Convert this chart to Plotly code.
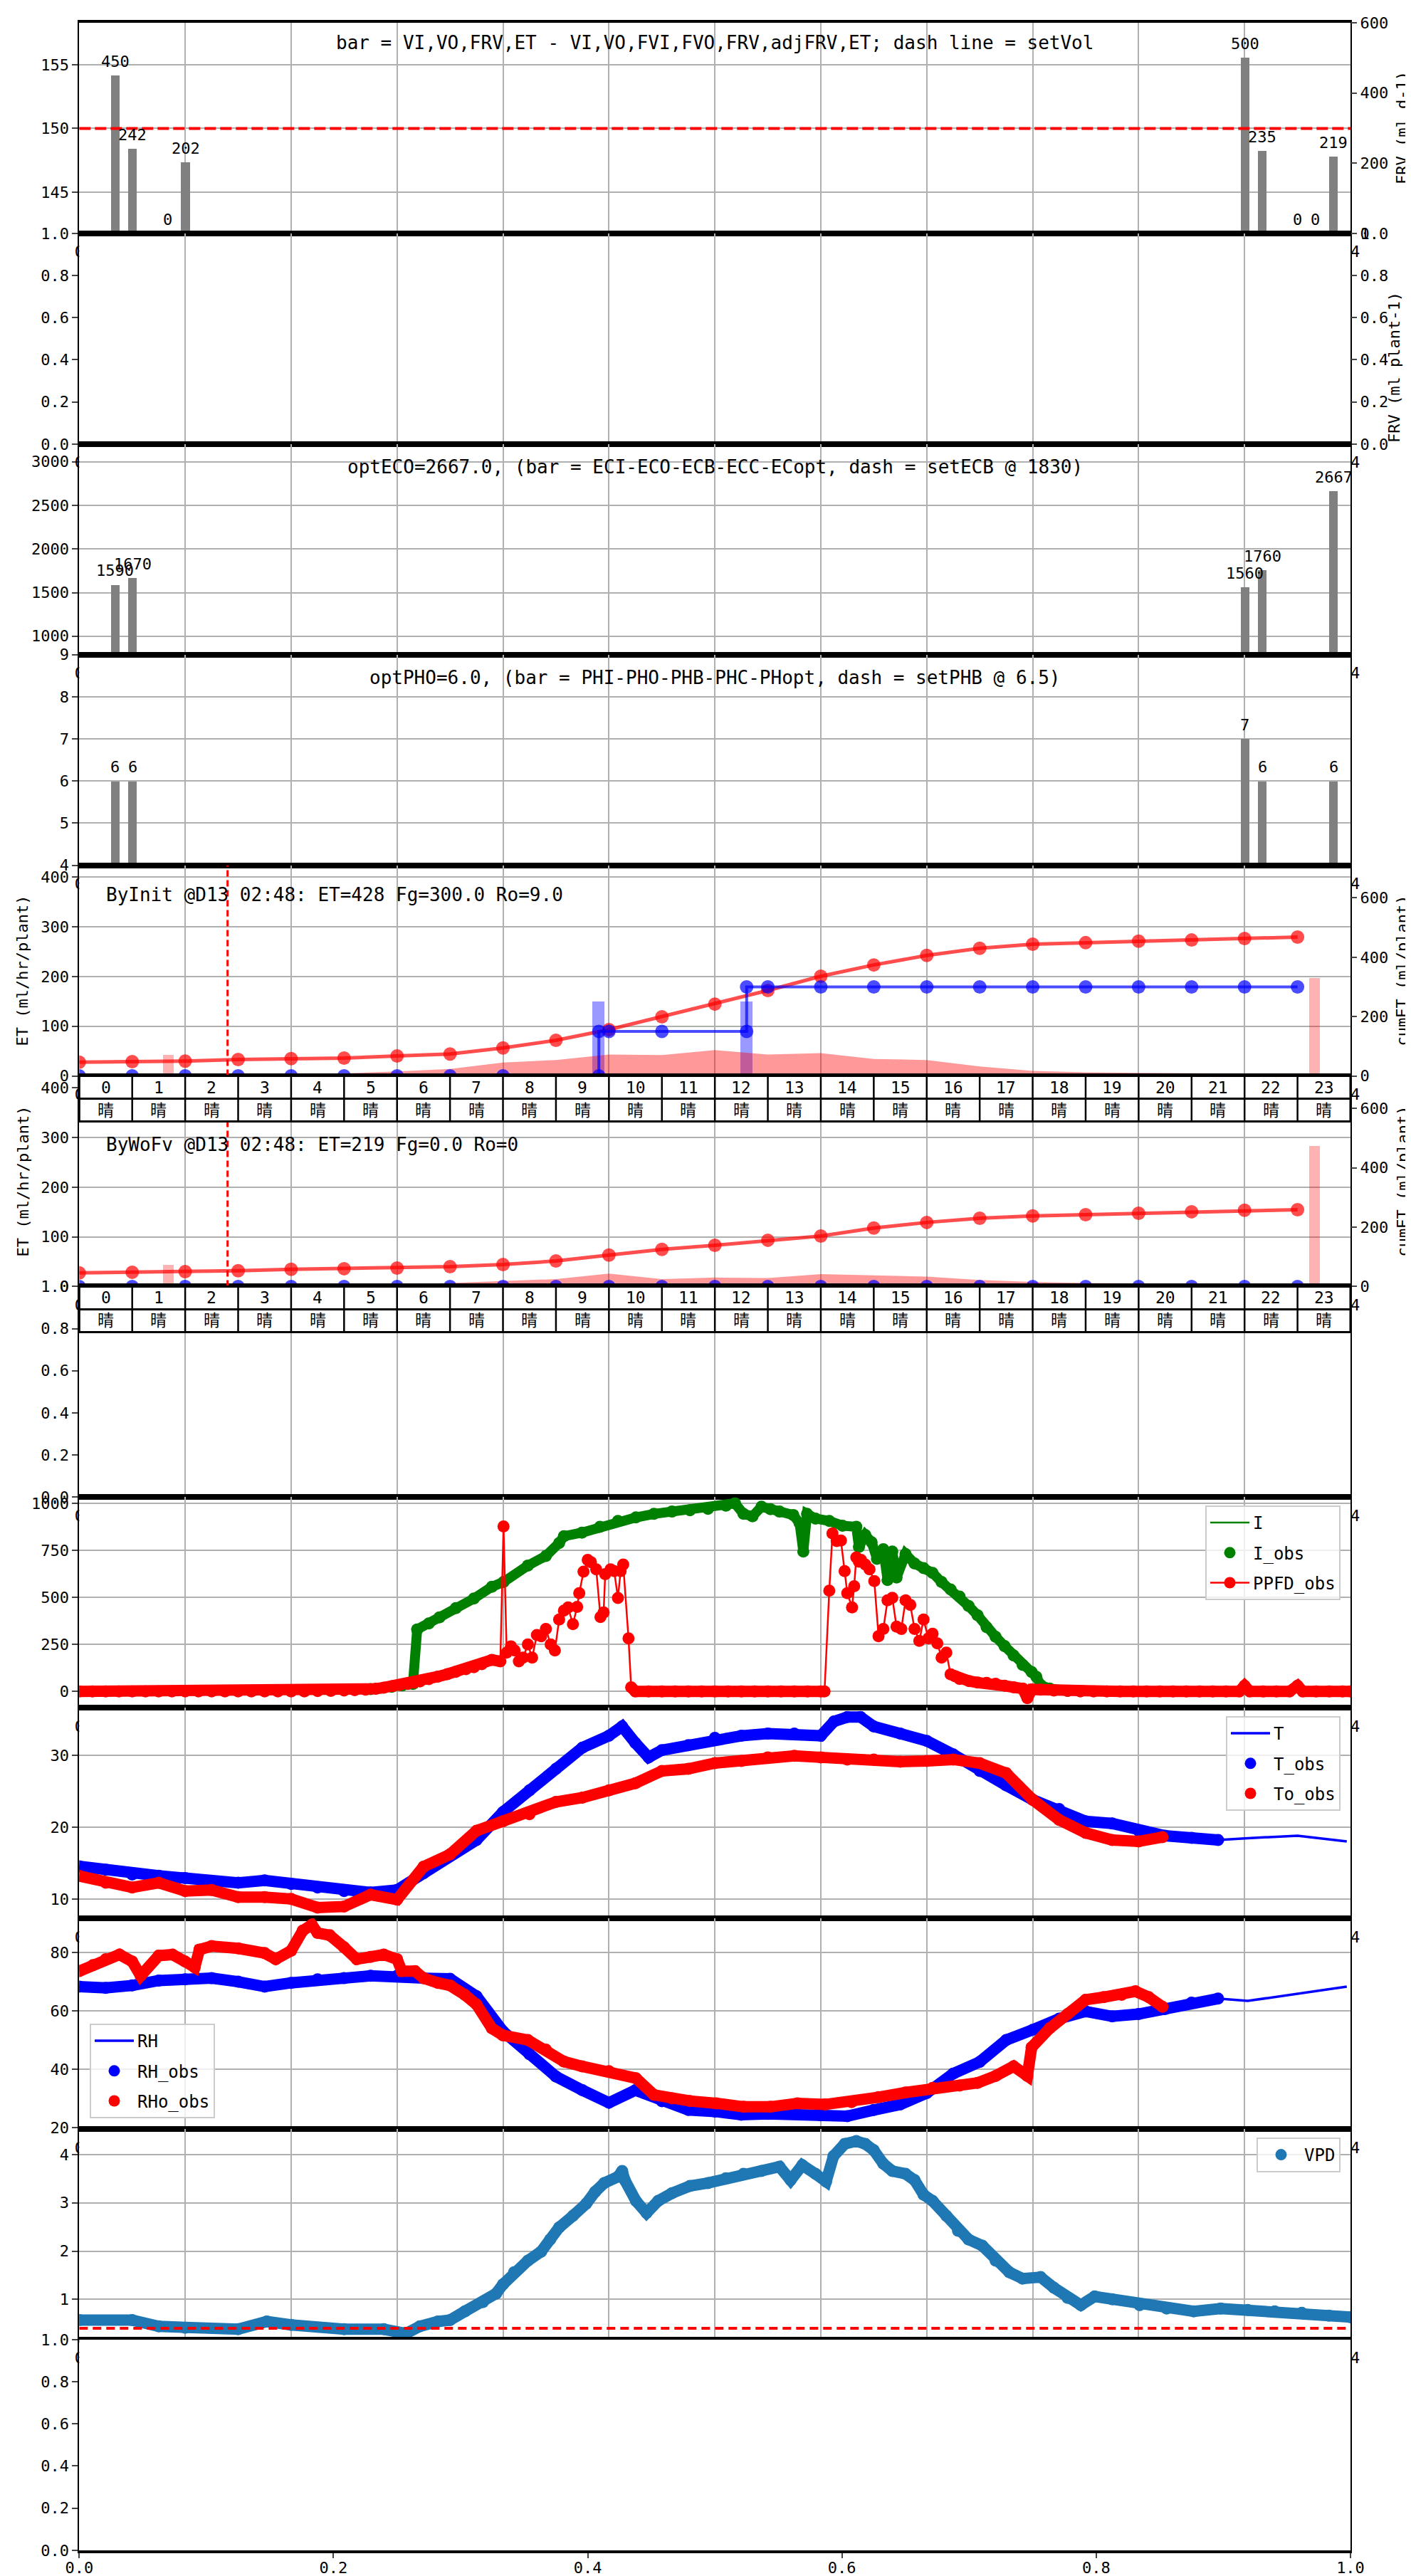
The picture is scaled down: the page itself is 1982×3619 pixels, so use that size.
import plotly.graph_objects as go

# ------------------------------------------------------------------ data
bar_hours = [0.68, 1.01, 1.67, 2.01, 22.01, 22.34, 23.0, 23.34, 23.68]
frv_values = [450, 242, 0, 202, 500, 235, 0, 0, 219]
set_vol = 150
frv_title = "bar = VI,VO,FRV,ET - VI,VO,FVI,FVO,FRV,adjFRV,ET; dash line = setVol"

ec_hours = [0.68, 1.01, 22.01, 22.34, 23.68]
ec_values = [1590, 1670, 1560, 1760, 2667]
ec_title = "optECO=2667.0, (bar = ECI-ECO-ECB-ECC-ECopt, dash = setECB @ 1830)"

ph_hours = [0.68, 1.01, 22.01, 22.34, 23.68]
ph_values = [6, 6, 7, 6, 6]
ph_title = "optPHO=6.0, (bar = PHI-PHO-PHB-PHC-PHopt, dash = setPHB @ 6.5)"

hours = [0, 1, 2, 3, 4, 5, 6, 7, 8, 9, 10, 11, 12, 13, 14, 15, 16, 17, 18, 19, 20, 21, 22, 23]
weather = ["晴"] * 24
init_time = 2.8

byinit_text = "ByInit @D13 02:48: ET=428 Fg=300.0 Ro=9.0"
byinit_cumET = [46, 48, 50, 55, 58, 60, 67, 74, 94, 120, 156, 199, 242, 288, 336, 374, 406, 430, 444, 449, 454, 458, 463, 468]
byinit_ET = [4, 4, 4, 4, 5, 5, 9, 14, 27, 32, 43, 42, 52, 43, 46, 34, 32, 19, 10, 7, 6, 5, 4, 4]
byinit_irr_hours = [9.81, 12.6]
byinit_irr = [150, 150]
byinit_cumirr_hours = [0, 1, 2, 3, 4, 5, 6, 7, 8, 9.81, 9.81, 10, 11, 12.6, 12.6, 13, 14, 15, 16, 17, 18, 19, 20, 21, 22, 23]
byinit_cumirr = [0, 0, 0, 0, 0, 0, 0, 0, 0, 0, 150, 150, 150, 150, 300, 300, 300, 300, 300, 300, 300, 300, 300, 300, 300, 300]
et_bar_hours = [1.69, 23.33]
byinit_et_bars = [43, 198]

bywofv_text = "ByWoFv @D13 02:48: ET=219 Fg=0.0 Ro=0"
bywofv_cumET = [46, 48, 50, 53, 58, 60, 62, 67, 74, 86, 106, 125, 139, 156, 170, 197, 216, 230, 238, 242, 247, 252, 257, 259]
bywofv_ET = [3, 3, 3, 3, 3, 3, 4, 7, 11, 15, 26, 15, 18, 17, 25, 23, 20, 13, 9, 7, 6, 6, 5, 5]
bywofv_cumirr = [0] * 24
bywofv_et_bars = [44, 284]

I_obs = [(5.5, 12), (5.9, 25), (6.1, 32), (6.3, 40), (6.38, 330), (6.6, 362), (6.8, 394), (7.11, 443),
         (7.45, 494), (7.79, 557), (8.01, 582), (8.47, 670), (8.81, 721), (9.06, 790), (9.15, 826),
         (9.49, 845), (9.83, 876), (10.17, 907), (10.51, 926), (10.85, 945), (11.19, 957), (11.53, 964),
         (11.87, 972), (12.21, 989), (12.38, 1001), (12.54, 945), (12.71, 932), (12.88, 983), (13.05, 970),
         (13.22, 957), (13.48, 939), (13.6, 895), (13.67, 744), (13.74, 945), (13.9, 920), (14.16, 907),
         (14.41, 882), (14.67, 876), (14.72, 769), (14.84, 832), (14.96, 794), (15.06, 706), (15.18, 757),
         (15.26, 593), (15.35, 744), (15.43, 606), (15.6, 731), (15.77, 681), (15.94, 656), (16.11, 631),
         (16.28, 582), (16.45, 543), (16.62, 505), (16.79, 455), (16.96, 405), (17.13, 342), (17.3, 291),
         (17.47, 241), (17.64, 191), (17.81, 141), (17.98, 103), (18.07, 78), (18.15, 34), (18.32, 15),
         (18.66, 3)]

PPFD_obs = [(0, 0), (0.25, 0), (0.5, 0), (0.75, 0), (1, 0), (1.25, 0), (1.5, 0), (1.75, 0), (2, 0), (2.25, 0),
            (2.5, 0), (2.75, 0), (3, 0), (3.25, 0), (3.5, 0), (3.75, 0), (4, 0), (4.25, 0), (4.5, 2), (4.75, 3),
            (5.0, 5), (5.2, 7), (5.41, 9), (5.6, 14), (5.75, 20), (5.92, 28), (6.05, 34), (6.2, 40), (6.32, 46),
            (6.43, 53), (6.6, 65), (6.77, 79), (6.95, 92), (7.11, 104), (7.3, 118), (7.45, 129), (7.6, 145),
            (7.79, 168), (7.95, 160), (8.01, 878), (8.07, 206), (8.15, 240), (8.22, 218), (8.3, 160), (8.38, 180),
            (8.47, 250), (8.55, 180), (8.64, 300), (8.72, 294), (8.81, 332), (8.9, 250), (8.98, 218), (9.06, 383),
            (9.15, 430), (9.23, 447), (9.32, 358), (9.4, 450), (9.44, 523), (9.52, 637), (9.6, 700), (9.66, 688),
            (9.76, 650), (9.84, 396), (9.9, 420), (9.93, 624), (10.03, 650), (10.1, 640), (10.17, 497),
            (10.22, 640), (10.27, 675), (10.37, 282), (10.42, 22), (10.5, 0), (10.75, 0), (11, 0), (11.25, 0),
            (11.5, 0), (11.75, 0), (12, 0), (12.25, 0), (12.5, 0), (12.75, 0), (13, 0), (13.25, 0), (13.5, 0),
            (13.75, 0), (14.0, 0), (14.07, 0), (14.16, 536), (14.22, 841), (14.3, 800), (14.38, 803), (14.45, 640),
            (14.5, 523), (14.59, 447), (14.63, 560), (14.67, 713), (14.72, 690), (14.76, 700), (14.84, 675),
            (14.92, 650), (15.01, 587), (15.09, 294), (15.18, 332), (15.26, 485), (15.35, 498), (15.43, 345),
            (15.52, 332), (15.6, 485), (15.69, 460), (15.77, 332), (15.86, 269), (15.94, 383), (16.03, 282),
            (16.11, 307), (16.2, 256), (16.28, 180), (16.37, 206), (16.45, 91), (16.54, 80), (16.62, 66),
            (16.8, 55), (16.96, 47), (17.13, 45), (17.3, 41), (17.47, 30), (17.64, 22), (17.81, 15), (17.9, -36),
            (17.98, 10), (18.15, 9), (18.4, 5), (18.66, 3), (18.9, 0), (19.15, 0), (19.4, 0), (19.65, 0),
            (19.9, 0), (20.15, 0), (20.4, 0), (20.65, 0), (20.9, 0), (21.15, 0), (21.4, 0), (21.65, 0), (21.9, 0),
            (22.0, 30), (22.1, 0), (22.35, 0), (22.6, 0), (22.85, 0), (23.0, 30), (23.1, 0), (23.35, 0),
            (23.6, 0), (23.85, 0), (24.0, 0)]
ppfd_band_max = 170   # below this the dense observations merge into a solid band

T_obs = [(0, 14.55), (0.5, 14.06), (1, 13.4), (1.5, 13.23), (2, 12.9), (2.5, 12.4), (3, 12.25), (3.5, 12.58),
         (4, 12.08), (4.5, 11.6), (5, 11.1), (5.5, 10.9), (6, 11.25), (6.5, 13.57), (7, 16.2), (7.5, 18.2),
         (8, 22.1), (8.5, 25.1), (9, 28.1), (9.5, 31.06), (10, 32.7), (10.25, 34.0), (10.5, 31.7),
         (10.75, 29.7), (11, 30.7), (11.5, 31.4), (12, 32.4), (12.5, 32.7), (13, 33.0), (13.5, 33.0),
         (14, 32.7), (14.25, 34.7), (14.5, 35.3), (14.75, 35.3), (15, 34.0), (15.5, 33.0), (16, 32.0),
         (16.5, 30.1), (17, 27.8), (17.5, 25.8), (18, 23.8), (18.5, 22.5), (19, 20.8), (19.5, 20.5),
         (20, 19.5), (20.5, 18.8), (21, 18.5), (21.5, 18.2)]
T_model_tail = [(22.06, 18.45), (23.0, 18.8), (23.93, 18.0)]
To_obs = [(0, 13.2), (0.5, 12.25), (1, 11.6), (1.5, 12.25), (2, 11.1), (2.5, 11.25), (3, 10.26), (3.5, 10.26),
          (4, 10.0), (4.5, 8.8), (5, 8.95), (5.5, 10.6), (6, 9.9), (6.5, 14.5), (7, 16.2), (7.5, 19.5),
          (8, 20.8), (8.5, 21.8), (9, 23.5), (9.5, 24.1), (10, 25.1), (10.5, 26.1), (11, 27.8), (11.5, 28.1),
          (12, 28.9), (12.5, 29.2), (13, 29.7), (13.5, 29.9), (14, 29.7), (14.5, 29.4), (15, 29.4),
          (15.5, 29.1), (16, 29.2), (16.5, 29.4), (17, 28.9), (17.5, 27.5), (18, 23.8), (18.5, 21.0),
          (19, 19.2), (19.5, 18.2), (20, 18.0), (20.45, 18.6)]

RH_obs = [(0, 68.3), (0.5, 67.9), (1, 68.7), (1.5, 70.4), (2, 70.8), (2.5, 71.2), (3, 70.0), (3.5, 68.3),
          (4, 69.6), (4.5, 70.8), (5, 71.2), (5.5, 72.0), (6, 72.0), (6.5, 71.2), (7, 71.0), (7.5, 65.0),
          (8, 53.0), (8.5, 45.1), (9, 37.5), (9.5, 32.8), (10, 28.5), (10.5, 32.8), (11, 29.0), (11.5, 26.0),
          (12, 25.5), (12.5, 24.4), (13, 24.7), (13.5, 24.7), (14, 24.2), (14.5, 23.9), (15, 26.0),
          (15.5, 27.9), (16, 31.8), (16.5, 38.5), (17, 42.5), (17.5, 50.0), (18, 53.5), (18.5, 57.3),
          (19, 59.8), (19.5, 58.1), (20, 58.9), (20.5, 60.6), (21, 62.8), (21.5, 64.2)]
RH_model_tail = [(22.06, 63.4), (23.0, 65.9), (23.93, 68.3)]
RHo_obs = [(0, 73.6), (0.26, 75.7), (0.5, 77.7), (0.76, 79.3), (1.0, 76.9), (1.16, 72.0), (1.5, 78.9),
           (1.76, 79.3), (2.0, 76.9), (2.18, 74.9), (2.27, 81.0), (2.5, 82.2), (3.0, 81.4), (3.5, 79.8),
           (3.71, 77.7), (4.0, 80.6), (4.22, 87.5), (4.39, 89.5), (4.5, 86.7), (4.73, 85.9), (5.0, 81.8),
           (5.24, 77.7), (5.5, 78.5), (5.75, 79.3), (6.0, 77.7), (6.09, 73.6), (6.34, 73.6), (6.5, 71.2),
           (6.77, 69.6), (7.0, 68.7), (7.28, 65.5), (7.5, 62.2), (7.79, 54.0), (8.0, 51.6), (8.47, 50.0),
           (8.81, 46.7), (9.15, 42.6), (9.49, 41.0), (10.0, 39.3), (10.51, 36.9), (10.85, 31.2), (11.19, 30.0),
           (11.53, 29.1), (12.03, 28.3), (12.54, 27.1), (13.05, 27.1), (13.56, 28.3), (14.08, 27.9),
           (14.58, 28.7), (15.09, 30.4), (15.6, 32.0), (16.11, 33.6), (16.62, 34.4), (16.96, 35.3),
           (17.3, 37.7), (17.64, 41.0), (17.9, 37.7), (17.98, 47.5), (18.32, 54.0), (18.66, 58.9),
           (19.0, 63.8), (19.34, 64.7), (19.68, 65.5), (19.94, 66.7), (20.19, 64.7), (20.45, 61.4)]

VPD_obs = [(0, 0.57), (1.0, 0.57), (1.5, 0.44), (2, 0.41), (3, 0.38), (3.54, 0.54), (4, 0.47), (5, 0.38),
           (5.75, 0.38), (6.17, 0.29), (6.43, 0.44), (6.77, 0.54), (7, 0.57), (7.28, 0.75), (7.62, 0.94),
           (7.87, 1.12), (8.0, 1.31), (8.21, 1.56), (8.47, 1.80), (8.72, 1.99), (8.89, 2.24), (9.06, 2.49),
           (9.32, 2.73), (9.57, 2.98), (9.74, 3.23), (9.91, 3.41), (10.17, 3.54), (10.25, 3.66), (10.3, 3.47),
           (10.51, 3.04), (10.71, 2.79), (10.93, 3.04), (11.19, 3.20), (11.53, 3.35), (11.87, 3.41),
           (12.21, 3.51), (12.54, 3.60), (12.88, 3.66), (13.22, 3.75), (13.43, 3.47), (13.65, 3.78),
           (13.9, 3.60), (14.1, 3.44), (14.24, 3.97), (14.45, 4.22), (14.67, 4.28), (14.84, 4.22),
           (15.0, 4.09), (15.18, 3.81), (15.35, 3.66), (15.6, 3.60), (15.77, 3.47), (15.94, 3.17),
           (16.11, 3.04), (16.37, 2.73), (16.59, 2.42), (16.79, 2.24), (17.05, 2.11), (17.3, 1.80),
           (17.56, 1.56), (17.81, 1.43), (18.15, 1.46), (18.4, 1.24), (18.66, 1.03), (18.91, 0.88),
           (19.17, 1.06), (19.5, 1.00), (20.02, 0.88), (20.53, 0.81), (21.04, 0.75), (21.55, 0.81),
           (22.06, 0.78), (22.57, 0.75), (23.08, 0.72), (23.59, 0.66), (24.0, 0.63)]
vpd_threshold = 0.4

# ------------------------------------------------------------------ layout helpers
W, H = 1982, 3619
XL, XR = 103.3, 1889.0
TOP, PH = 24.0, 295.9
MONO = "DejaVu Sans Mono, Noto Sans CJK JP"
GRID = "#b0b0b0"


def py(y):
    return 1 - y / H


def ptop(i):
    return TOP + PH * (i - 1)


def dom(i):
    return [py(ptop(i) + PH), py(ptop(i))]


def xs(p):
    return [a for a, b in p]


def ys(p):
    return [b for a, b in p]


unit_ticks = [0, 0.2, 0.4, 0.6, 0.8, 1.0]
unit_text = ["0.0", "0.2", "0.4", "0.6", "0.8", "1.0"]
yranges = {1: [141.76, 158.3], 2: [0, 1], 3: [788, 3204], 4: [4, 9], 5: [0, 424], 6: [0, 424],
           7: [0, 1], 8: [-87, 1034], 9: [7.3, 36.6], 10: [19.5, 91.7], 11: [0.165, 4.53], 12: [0, 1]}
yticks = {1: [145, 150, 155], 2: unit_ticks, 3: [1000, 1500, 2000, 2500, 3000], 4: [4, 5, 6, 7, 8, 9],
          5: [0, 100, 200, 300, 400], 6: [0, 100, 200, 300, 400], 7: unit_ticks, 8: [0, 250, 500, 750, 1000],
          9: [10, 20, 30], 10: [20, 40, 60, 80], 11: [1, 2, 3, 4], 12: unit_ticks}
ygrid = {1: True, 2: False, 3: True, 4: True, 5: True, 6: True, 7: False, 8: True, 9: True, 10: True,
         11: True, 12: False}

layout = dict(width=W, height=H, margin=dict(l=0, r=0, t=0, b=0, autoexpand=False), paper_bgcolor="white",
              plot_bgcolor="white", font=dict(family=MONO, size=22, color="black"), bargap=0,
              barmode="overlay")

for i in range(1, 13):
    sx = "" if i == 1 else str(i)
    xa = dict(domain=[XL / W, XR / W], anchor="y" + sx, showline=True, mirror=True, linecolor="black",
              linewidth=3.5, zeroline=False, automargin=False)
    if i < 12:
        xa.update(range=[0, 24], tickmode="linear", tick0=0, dtick=2, showticklabels=False, ticks="",
                  showgrid=True, gridcolor=GRID, gridwidth=2)
    else:
        xa.update(range=[0, 1], tickvals=unit_ticks, ticktext=unit_text, ticks="outside", ticklen=7,
                  tickwidth=2, showgrid=False, tickfont=dict(size=22), ticklabelstandoff=-5)
    ya = dict(domain=dom(i), anchor="x" + sx, range=yranges[i], tickvals=yticks[i], ticks="outside",
              ticklen=8, tickwidth=2, showline=True, mirror=True, linecolor="black", linewidth=2,
              showgrid=ygrid[i], gridcolor=GRID, gridwidth=2, zeroline=False, automargin=False)
    if yticks[i] is unit_ticks:
        ya["ticktext"] = unit_text
    layout["xaxis" + sx] = xa
    layout["yaxis" + sx] = ya

twin = dict(side="right", ticks="outside", ticklen=8, tickwidth=2, showgrid=False, zeroline=False,
            showline=False, automargin=False)
layout["yaxis13"] = dict(twin, overlaying="y", anchor="x", range=[0, 600], tickvals=[0, 200, 400, 600])
layout["yaxis14"] = dict(twin, overlaying="y2", anchor="x2", range=[0, 1], tickvals=unit_ticks,
                         ticktext=unit_text)
layout["yaxis15"] = dict(twin, overlaying="y5", anchor="x5", range=[0, 710], tickvals=[0, 200, 400, 600])
layout["yaxis16"] = dict(twin, overlaying="y6", anchor="x6", range=[0, 710], tickvals=[0, 200, 400, 600])
# helper axes used only to clip the stray edge tick labels
layout["xaxis13"] = dict(domain=[0, XL / W], range=[0, 1], visible=False, anchor="y17")
layout["yaxis17"] = dict(domain=[0, 1], range=[H, 0], visible=False, anchor="x13")
layout["xaxis14"] = dict(domain=[XR / W, 1], range=[0, 1], visible=False, anchor="y18")
layout["yaxis18"] = dict(domain=[0, 1], range=[H, 0], visible=False, anchor="x14")

leg = dict(bgcolor="rgba(255,255,255,0.8)", bordercolor="#cccccc", borderwidth=2,
           font=dict(family=MONO, size=24), itemwidth=55, tracegroupgap=8)
layout["legend"] = dict(leg, x=1875 / W, xanchor="right", y=py(2107), yanchor="top")
layout["legend2"] = dict(leg, x=1875 / W, xanchor="right", y=py(2403), yanchor="top")
layout["legend3"] = dict(leg, x=118 / W, xanchor="left", y=py(2968), yanchor="bottom")
layout["legend4"] = dict(leg, x=1875 / W, xanchor="right", y=py(2995), yanchor="top")

fig = go.Figure()
ann = []
shapes = []

# empty panels still need a trace so their axes are drawn
for xa_, ya_ in [("x2", "y2"), ("x2", "y14"), ("x7", "y7"), ("x12", "y12")]:
    fig.add_trace(go.Scatter(x=[None], y=[None], xaxis=xa_, yaxis=ya_, showlegend=False, hoverinfo="skip"))

# ------------------------------------------------------------------ bar panels 1,3,4
def bar_panel(xax, yax, xh, vals):
    fig.add_trace(go.Bar(x=xh, y=vals, width=0.163, marker=dict(color="gray", line=dict(width=0)),
                         xaxis=xax, yaxis=yax, showlegend=False))
    for h, v in zip(xh, vals):
        ann.append(dict(x=h, y=v, xref=xax, yref=yax, text=str(v), showarrow=False, yanchor="bottom",
                        yshift=5, font=dict(size=22)))


bar_panel("x", "y13", bar_hours, frv_values)
bar_panel("x3", "y3", ec_hours, ec_values)
bar_panel("x4", "y4", ph_hours, ph_values)

shapes.append(dict(type="line", xref="x", yref="y", x0=0, x1=24, y0=set_vol, y1=set_vol, layer="above",
                   line=dict(color="red", width=4, dash="16px,6px")))

cx = (XL + XR) / 2 / W
for txt, ypx in [(frv_title, 52), (ec_title, 648), (ph_title, 944)]:
    ann.append(dict(x=cx, y=py(ypx), xref="paper", yref="paper", text=txt, showarrow=False,
                    font=dict(size=26), xanchor="center", yanchor="middle"))

# ------------------------------------------------------------------ ET panels 5,6
def et_panel(n, cum, rate, cumirr_h, cumirr, irr_h, irr, etbars, txt):
    xax, yax, yr = "x%d" % n, "y%d" % n, "y%d" % (n + 10)
    fig.add_trace(go.Scatter(x=hours, y=rate, mode="lines", fill="tozeroy", line=dict(width=0),
                             fillcolor="rgba(255,0,0,0.4)", xaxis=xax, yaxis=yax, showlegend=False))
    fig.add_trace(go.Bar(x=et_bar_hours, y=etbars, width=0.2, marker=dict(color="rgba(255,0,0,0.3)",
                         line=dict(width=0)), xaxis=xax, yaxis=yax, showlegend=False))
    if irr:
        fig.add_trace(go.Bar(x=irr_h, y=irr, width=0.23, marker=dict(color="rgba(0,0,255,0.4)",
                             line=dict(width=0)), xaxis=xax, yaxis=yax, showlegend=False))
    fig.add_trace(go.Scatter(x=hours, y=cum, mode="lines+markers", line=dict(color="rgba(255,0,0,0.7)", width=5),
                             marker=dict(color="rgba(255,0,0,0.7)", size=19), xaxis=xax, yaxis=yr,
                             showlegend=False))
    fig.add_trace(go.Scatter(x=cumirr_h, y=cumirr, mode="lines+markers",
                             line=dict(color="rgba(0,0,255,0.7)", width=4),
                             marker=dict(color="rgba(0,0,255,0.7)", size=19), xaxis=xax, yaxis=yr,
                             showlegend=False, cliponaxis=True))
    ann.append(dict(x=139 / W, y=py(ptop(n) + 41 + (n - 5) * 55), xref="paper", yref="paper", text=txt,
                    showarrow=False, xanchor="left", yanchor="middle", font=dict(size=26)))
    shapes.append(dict(type="line", xref=xax, yref=yax, x0=init_time, x1=init_time, y0=0,
                       y1=yranges[n][1], layer="above", line=dict(color="red", width=3, dash="9px,5px")))


et_panel(5, byinit_cumET, byinit_ET, byinit_cumirr_hours, byinit_cumirr, byinit_irr_hours, byinit_irr,
         byinit_et_bars, byinit_text)
et_panel(6, bywofv_cumET, bywofv_ET, hours, bywofv_cumirr, [], [], bywofv_et_bars, bywofv_text)

# hour / weather table under panels 5 and 6
for n in (5, 6):
    top = ptop(n) + PH
    r1, r2 = top + 32, top + 64
    dx = "x%d domain" % n
    shapes.append(dict(type="rect", xref=dx, yref="paper", x0=0, x1=1, y0=py(r2), y1=py(top),
                       fillcolor="white", line=dict(color="black", width=3), layer="above"))
    shapes.append(dict(type="line", xref=dx, yref="paper", x0=0, x1=1, y0=py(r1), y1=py(r1),
                       line=dict(color="black", width=3), layer="above"))
    for h in hours[1:]:
        shapes.append(dict(type="line", xref=dx, yref="paper", x0=h / 24, x1=h / 24, y0=py(r2), y1=py(top),
                           line=dict(color="black", width=2.5), layer="above"))
    for h, wtxt in zip(hours, weather):
        ann.append(dict(x=h + 0.5, y=py((top + r1) / 2), xref="x%d" % n, yref="paper", text=str(h),
                        showarrow=False, font=dict(size=23)))
        ann.append(dict(x=h + 0.5, y=py((r1 + r2) / 2), xref="x%d" % n, yref="paper", text=wtxt,
                        showarrow=False, font=dict(size=23)))

# ------------------------------------------------------------------ light panel 8
fig.add_trace(go.Scatter(x=xs(I_obs), y=ys(I_obs), mode="lines", line=dict(color="green", width=14),
                         xaxis="x8", yaxis="y8", showlegend=False, hoverinfo="skip"))
fig.add_trace(go.Scatter(x=xs(I_obs), y=ys(I_obs), mode="lines", name="I", line=dict(color="green", width=2.5),
                         xaxis="x8", yaxis="y8", legend="legend", legendgroup="a"))
fig.add_trace(go.Scatter(x=xs(I_obs), y=ys(I_obs), mode="markers", name="I_obs",
                         marker=dict(color="green", size=17), xaxis="x8", yaxis="y8", legend="legend",
                         legendgroup="b"))
ppfd_band = [v if v < ppfd_band_max else None for v in ys(PPFD_obs)]
fig.add_trace(go.Scatter(x=xs(PPFD_obs), y=ppfd_band, mode="lines", line=dict(color="red", width=16),
                         connectgaps=False, xaxis="x8", yaxis="y8", showlegend=False, hoverinfo="skip"))
fig.add_trace(go.Scatter(x=xs(PPFD_obs), y=ys(PPFD_obs), mode="lines+markers", name="PPFD_obs",
                         line=dict(color="red", width=2.5), marker=dict(color="red", size=17),
                         xaxis="x8", yaxis="y8", legend="legend", legendgroup="c"))

# ------------------------------------------------------------------ temperature panel 9
T_model = T_obs + T_model_tail
fig.add_trace(go.Scatter(x=xs(T_model), y=ys(T_model), mode="lines", name="T", line=dict(color="blue", width=3.5),
                         xaxis="x9", yaxis="y9", legend="legend2", legendgroup="a"))
fig.add_trace(go.Scatter(x=xs(T_obs), y=ys(T_obs), mode="lines", line=dict(color="blue", width=16),
                         xaxis="x9", yaxis="y9", showlegend=False, hoverinfo="skip"))
fig.add_trace(go.Scatter(x=xs(T_obs), y=ys(T_obs), mode="markers", name="T_obs",
                         marker=dict(color="blue", size=17), xaxis="x9", yaxis="y9", legend="legend2",
                         legendgroup="b"))
fig.add_trace(go.Scatter(x=xs(To_obs), y=ys(To_obs), mode="lines", line=dict(color="red", width=16),
                         xaxis="x9", yaxis="y9", showlegend=False, hoverinfo="skip"))
fig.add_trace(go.Scatter(x=xs(To_obs), y=ys(To_obs), mode="markers", name="To_obs",
                         marker=dict(color="red", size=17), xaxis="x9", yaxis="y9", legend="legend2",
                         legendgroup="c"))

# ------------------------------------------------------------------ humidity panel 10
RH_model = RH_obs + RH_model_tail
fig.add_trace(go.Scatter(x=xs(RH_model), y=ys(RH_model), mode="lines", name="RH",
                         line=dict(color="blue", width=3.5), xaxis="x10", yaxis="y10", legend="legend3",
                         legendgroup="a"))
fig.add_trace(go.Scatter(x=xs(RH_obs), y=ys(RH_obs), mode="lines", line=dict(color="blue", width=16),
                         xaxis="x10", yaxis="y10", showlegend=False, hoverinfo="skip"))
fig.add_trace(go.Scatter(x=xs(RH_obs), y=ys(RH_obs), mode="markers", name="RH_obs",
                         marker=dict(color="blue", size=17), xaxis="x10", yaxis="y10", legend="legend3",
                         legendgroup="b"))
fig.add_trace(go.Scatter(x=xs(RHo_obs), y=ys(RHo_obs), mode="lines", line=dict(color="red", width=16),
                         xaxis="x10", yaxis="y10", showlegend=False, hoverinfo="skip"))
fig.add_trace(go.Scatter(x=xs(RHo_obs), y=ys(RHo_obs), mode="markers", name="RHo_obs",
                         marker=dict(color="red", size=17), xaxis="x10", yaxis="y10", legend="legend3",
                         legendgroup="c"))

# ------------------------------------------------------------------ VPD panel 11
fig.add_trace(go.Scatter(x=xs(VPD_obs), y=ys(VPD_obs), mode="lines", line=dict(color="#1f77b4", width=16),
                         xaxis="x11", yaxis="y11", showlegend=False, hoverinfo="skip"))
fig.add_trace(go.Scatter(x=xs(VPD_obs), y=ys(VPD_obs), mode="markers", name="VPD",
                         marker=dict(color="#1f77b4", size=17), xaxis="x11", yaxis="y11", legend="legend4"))
shapes.append(dict(type="line", xref="x11", yref="y11", x0=0, x1=24, y0=vpd_threshold, y1=vpd_threshold,
                   layer="above", line=dict(color="red", width=4, dash="12px,7px")))

# ------------------------------------------------------------------ stray edge tick labels ("0" / "24")
edge_y = [ptop(i) + 28 for i in range(2, 13)]
fig.add_trace(go.Scatter(x=[1] * len(edge_y), y=edge_y, mode="text", text=["0"] * len(edge_y),
                         textfont=dict(family=MONO, size=22, color="black"), xaxis="x13", yaxis="y17",
                         showlegend=False, cliponaxis=True, hoverinfo="skip"))
fig.add_trace(go.Scatter(x=[0] * len(edge_y), y=edge_y, mode="text", text=["24"] * len(edge_y),
                         textfont=dict(family=MONO, size=22, color="black"), xaxis="x14", yaxis="y18",
                         showlegend=False, cliponaxis=True, hoverinfo="skip"))

# ------------------------------------------------------------------ axis titles
def vtitle(txt, xpx, ypx):
    ann.append(dict(x=xpx / W, y=py(ypx), xref="paper", yref="paper", text=txt, textangle=-90,
                    showarrow=False, xanchor="center", yanchor="middle", font=dict(size=22)))


vtitle("FRV (ml d-1)", 1962, ptop(1) + PH / 2)
vtitle("FRV (ml plant-1)", 1950, 508)
vtitle("ET (ml/hr/plant)", 24, ptop(5) + PH / 2)
vtitle("cumET (ml/plant)", 1962, ptop(5) + PH / 2)
vtitle("ET (ml/hr/plant)", 24, ptop(6) + PH / 2)
vtitle("cumET (ml/plant)", 1962, ptop(6) + PH / 2)

layout["annotations"] = ann
layout["shapes"] = shapes
fig.update_layout(**layout)
fig.write_html("out.html")
